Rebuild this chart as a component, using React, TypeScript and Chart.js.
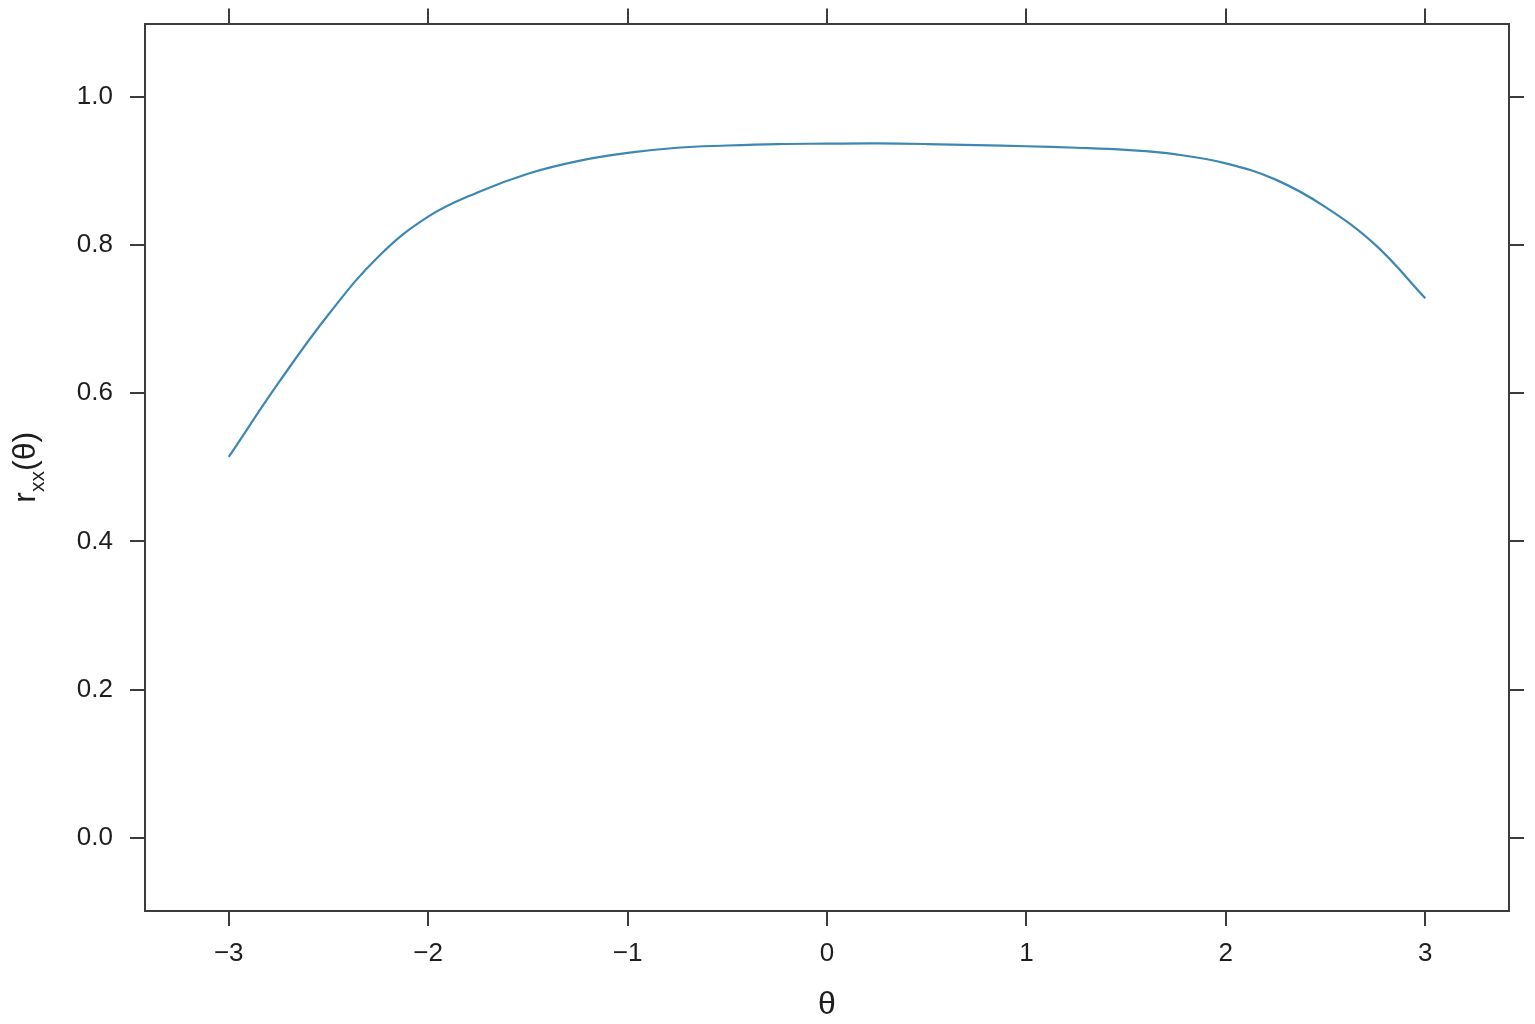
import React, { useEffect, useRef } from "react";
import { Chart, registerables } from "chart.js";

Chart.register(...registerables);

// ---- data ----
const theta = [-3, -2.75, -2.5, -2.25, -2, -1.75, -1.5, -1.25, -1, -0.75, -0.5, -0.25, 0, 0.25, 0.5, 0.75, 1, 1.25, 1.5, 1.75, 2, 2.25, 2.5, 2.75, 3];
const rxx = [0.514, 0.614, 0.706, 0.784, 0.838, 0.871, 0.896, 0.913, 0.924, 0.931, 0.934, 0.936, 0.9365, 0.9368, 0.936, 0.9345, 0.933, 0.931, 0.928, 0.922, 0.910, 0.888, 0.851, 0.800, 0.728];

const xTicks = [-3, -2, -1, 0, 1, 2, 3];
const yTicks = [0, 0.2, 0.4, 0.6, 0.8, 1.0];
const xLimits = [-3.42, 3.42];
const yLimits = [-0.0986, 1.0986];

const xTitle = "θ";
const yTitleMain = "r";
const yTitleSub = "xx";
const yTitleTail = "(θ)";

const FONT = "'Liberation Sans', Arial, Helvetica, sans-serif";
const AXIS_COLOR = "#3c3c3c";
const TEXT_COLOR = "#1e1e1e";
const LINE_COLOR = "#3d88b3";

const fmtX = (v: number) => (v < 0 ? "\u2212" + Math.abs(v) : String(v));
const fmtY = (v: number) => Number(v).toFixed(1);

function axis(kind: "x" | "y", position: string, tickVals: number[], showLabels: boolean, size: number, fmt: (v: number) => string, padding: number) {
  const lim = kind === "x" ? xLimits : yLimits;
  return {
    type: "linear",
    position,
    min: lim[0],
    max: lim[1],
    afterBuildTicks: (s: any) => {
      s.ticks = tickVals.map((v) => ({ value: v }));
    },
    afterFit: (s: any) => {
      if (kind === "x") s.height = size;
      else s.width = size;
      s.paddingTop = 0;
      s.paddingBottom = 0;
      s.paddingLeft = 0;
      s.paddingRight = 0;
    },
    grid: {
      drawOnChartArea: false,
      drawTicks: true,
      tickLength: 15,
      lineWidth: 2,
      color: AXIS_COLOR,
    },
    border: { display: true, color: AXIS_COLOR, width: 2 },
    ticks: {
      display: showLabels,
      padding,
      autoSkip: false,
      maxRotation: 0,
      color: TEXT_COLOR,
      font: { family: FONT, size: 26 },
      callback: (v: any) => fmt(Number(v)),
    },
  };
}

const titlePlugin = {
  id: "latticeTitles",
  afterDraw(chart: any) {
    const ctx = chart.ctx;
    const ca = chart.chartArea;
    ctx.save();
    ctx.fillStyle = TEXT_COLOR;
    ctx.font = `32px ${FONT}`;
    ctx.textAlign = "center";
    ctx.textBaseline = "middle";
    ctx.fillText(xTitle, (ca.left + ca.right) / 2, 1005);

    ctx.translate(35, (ca.top + ca.bottom) / 2);
    ctx.rotate(-Math.PI / 2);
    ctx.textAlign = "left";
    ctx.textBaseline = "alphabetic";
    ctx.font = `32px ${FONT}`;
    const wMain = ctx.measureText(yTitleMain).width;
    const wTail = ctx.measureText(yTitleTail).width;
    ctx.font = `21px ${FONT}`;
    const wSub = ctx.measureText(yTitleSub).width;
    const total = wMain + wSub + wTail;
    let x0 = -total / 2;
    ctx.font = `32px ${FONT}`;
    ctx.fillText(yTitleMain, x0, 0);
    x0 += wMain;
    ctx.font = `21px ${FONT}`;
    ctx.fillText(yTitleSub, x0, 9);
    x0 += wSub;
    ctx.font = `32px ${FONT}`;
    ctx.fillText(yTitleTail, x0, 0);
    ctx.restore();
  },
};

export default function App() {
  const ref = useRef<HTMLCanvasElement | null>(null);
  useEffect(() => {
    if (!ref.current) return;
    const chart = new Chart(ref.current, {
      type: "line",
      data: {
        datasets: [
          {
            data: theta.map((t, i) => ({ x: t, y: rxx[i] })),
            borderColor: LINE_COLOR,
            borderWidth: 2.2,
            pointRadius: 0,
            fill: false,
            tension: 0.4,
            cubicInterpolationMode: "default",
          },
        ],
      },
      options: {
        animation: false,
        responsive: false,
        devicePixelRatio: 1,
        layout: { padding: 0 },
        plugins: { legend: { display: false }, tooltip: { enabled: false }, title: { display: false } },
        scales: {
          x: axis("x", "bottom", xTicks, true, 113, fmtX, 12),
          x2: axis("x", "top", xTicks, false, 23.5, fmtX, 0),
          y: axis("y", "left", yTicks, true, 145, fmtY, 17),
          y2: axis("y", "right", yTicks, false, 26, fmtY, 0),
        },
      } as any,
      plugins: [titlePlugin],
    } as any);
    return () => chart.destroy();
  }, []);
  return (
    <div style={{ position: "absolute", left: 0, top: 0, width: 1535, height: 1024, background: "#fff" }}>
      <canvas ref={ref} width={1535} height={1024} style={{ width: 1535, height: 1024 }} />
    </div>
  );
}
